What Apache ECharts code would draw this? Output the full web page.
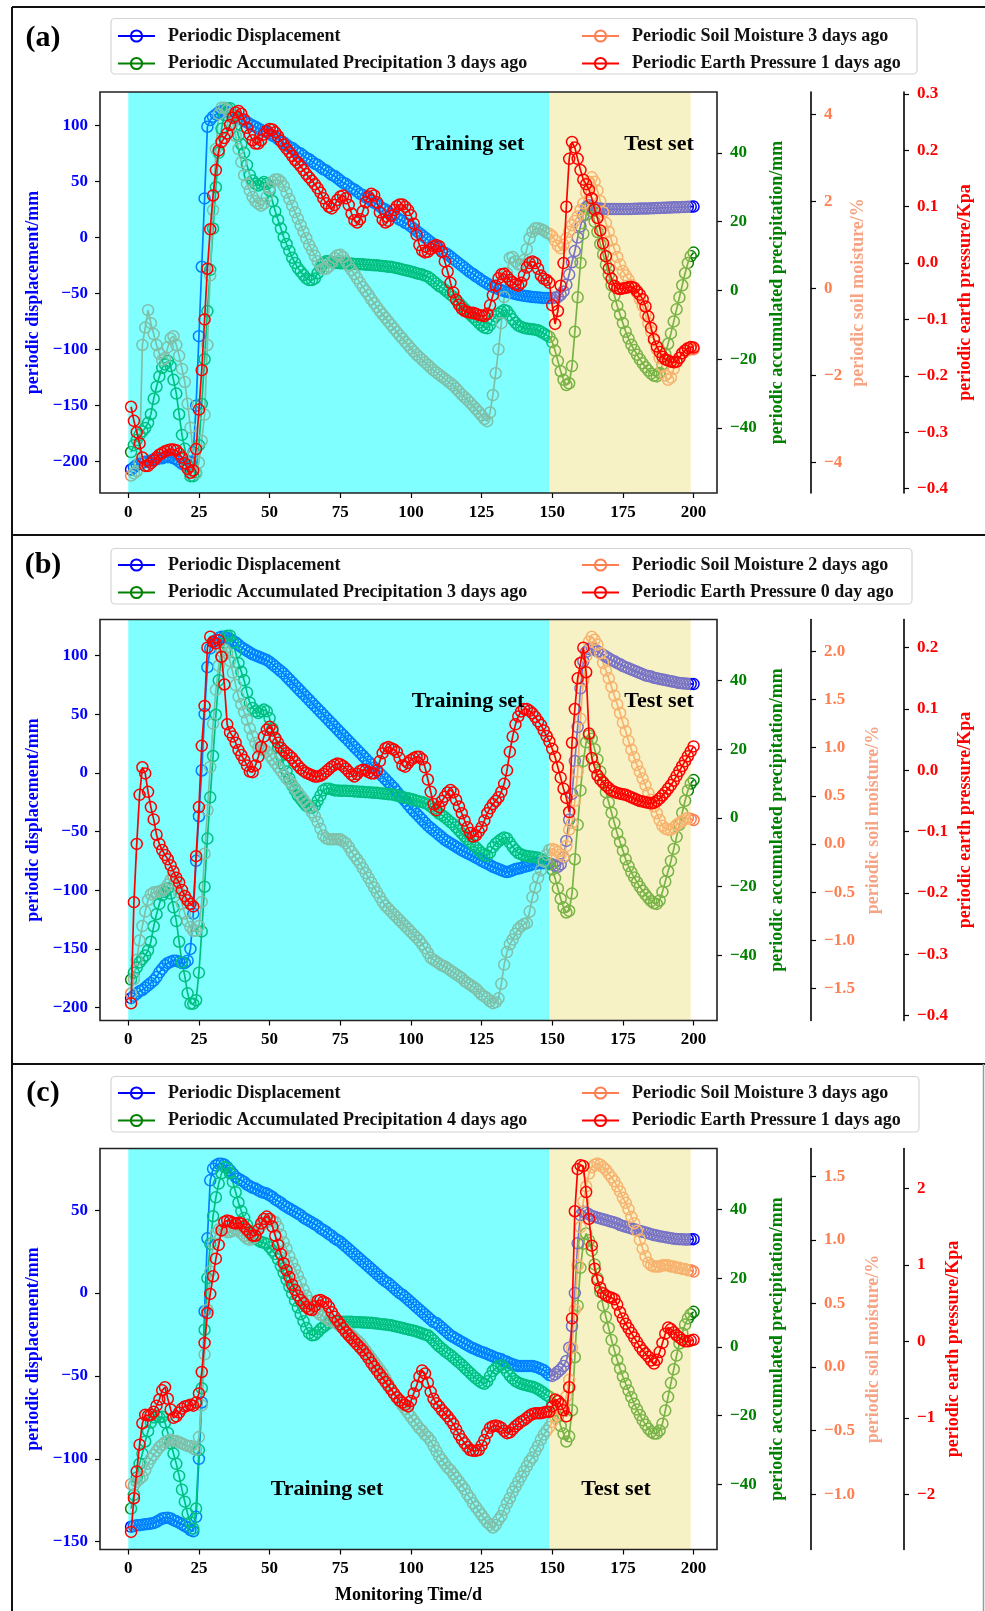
<!DOCTYPE html>
<html>
<head>
<meta charset="utf-8">
<title>Periodic terms: training and test sets</title>
<script src="https://cdn.jsdelivr.net/npm/echarts@6.0.0/dist/echarts.min.js"></script>
<style>
  html, body { margin: 0; padding: 0; background: #fff; }
  #main { width: 985px; height: 1611px; }
</style>
</head>
<body>
<div id="main"></div>
<script>
// ---- panel (a) : one value per monitoring day, day 1..200 ----
const dispA = [
  -207,-205,-203,-202,-201,-200,-200,-199,-198,-198,
  -197,-197,-196,-196,-196,-197,-198,-200,-202,-203,
  -203,-200,-192,-150,-88,-26,35,99,105,108,
  110,112,113,113,112,110.7,109.5,108,107,105.5,
  104,103,101.5,100,99,97.5,96,95,94,93,
  91,90,88,86,85,83,81,80,78,76,
  75,73,71,70,68,66,65,63,61,60,
  58,56,55,53,51,49,48,46,44,43,
  41,39,38,36,35,33,31,30,28,26,
  25,23,21,20,18,16,15,13,12,10,
  8,6,4,2,0,-2,-4,-6,-8,-10,
  -12,-13.5,-15,-17,-19,-21,-23,-25,-27,-29,
  -31,-32.5,-34.5,-36,-38,-39.5,-41,-42.5,-44,-45,
  -46,-47,-47.8,-48.5,-49,-49.7,-50.3,-51,-51.5,-52,
  -52.3,-52.6,-53,-53.2,-53.4,-53.6,-53.8,-54,-54,-54,
  -53.5,-53,-51,-48,-42,-33,-22,-12,0,10,
  20,27,29,28,27,26,26,25.5,25.5,25.5,
  25.5,25.5,25.5,25.5,25.5,25.5,25.5,25.6,25.7,25.8,
  25.9,26,26,26.1,26.2,26.3,26.4,26.5,26.6,26.7,
  26.8,26.9,27,27.1,27.2,27.3,27.4,27.5,27.6,27.7
];
// accumulated precipitation 3 days ago (used in (a) and (b))
const precip3 = [
  -47,-45,-43.5,-42,-41,-40,-38.5,-36,-31.5,-28,
  -25,-22.5,-21.5,-20.5,-22,-26,-30,-36,-42,-46,
  -51,-54,-54,-53,-45,-33,-20,-6,6,18,
  30,40,47,51,53,53,51,48,45,42.5,
  40,36.5,33.5,32,31,30.5,31,31.5,31,29,
  26,23,20.5,18,15.5,13.5,11.5,9.5,8,6.5,
  5.5,4.5,3.5,3,3,3.5,5,6.5,8,8.5,
  8.5,8.3,8,8,7.9,7.9,7.9,7.8,7.8,7.7,
  7.7,7.6,7.6,7.5,7.5,7.4,7.3,7.3,7.2,7.1,
  7,6.9,6.9,6.7,6.5,6.3,6.1,5.9,5.7,5.5,
  5.3,5,4.8,4.6,4.3,4,3.4,2.7,2,1.3,
  0.8,0.2,-0.5,-1.2,-1.8,-2.7,-3.6,-4.5,-5.4,-6.2,
  -7,-7.8,-8.6,-9.4,-10.2,-10.8,-11,-10,-8.5,-7.5,
  -6.8,-6.2,-5.7,-6,-7.2,-8.4,-9.4,-10.2,-10.6,-10.9,
  -11.1,-11.2,-11.3,-11.4,-11.6,-12,-12.5,-13,-13.5,-15,
  -17.5,-20.5,-23.5,-26,-27.5,-27,-22,-12,-2,8,
  16.5,22,24,23,20,17,13.5,10.5,7.5,4.5,
  1.5,-1.5,-4.5,-7,-9.5,-12,-14,-15.8,-17.3,-18.7,
  -20,-21.2,-22.3,-23.3,-24.2,-24.8,-25,-24,-21.5,-18.5,
  -15.5,-12.5,-9,-5.5,-2,1.5,5,8,10,11
];
const soilA = [
  -4.3,-4.25,-4.2,-4,-1.3,-0.9,-0.5,-0.8,-1.05,-1.3,
  -1.5,-1.65,-1.6,-1.35,-1.15,-1.1,-1.3,-1.55,-1.85,-2.15,
  -2.65,-3.2,-3.8,-4.25,-4,-3.5,-2.9,-1.3,0.3,1.8,
  3.2,4,4.15,4.15,4.1,4,3.8,3.5,3.2,2.9,
  2.6,2.4,2.25,2.1,2,1.95,1.9,1.95,2.1,2.3,
  2.45,2.5,2.5,2.45,2.35,2.2,2.05,1.9,1.75,1.6,
  1.45,1.3,1.15,1,0.88,0.75,0.62,0.52,0.45,0.45,
  0.5,0.6,0.7,0.76,0.77,0.72,0.62,0.52,0.42,0.33,
  0.23,0.13,0.03,-0.06,-0.15,-0.25,-0.34,-0.43,-0.52,-0.6,
  -0.68,-0.76,-0.84,-0.92,-1,-1.08,-1.15,-1.23,-1.3,-1.38,
  -1.45,-1.52,-1.58,-1.64,-1.7,-1.76,-1.82,-1.88,-1.93,-1.98,
  -2.03,-2.08,-2.13,-2.18,-2.23,-2.3,-2.37,-2.44,-2.5,-2.56,
  -2.63,-2.7,-2.77,-2.84,-2.92,-3,-3.05,-2.85,-2.45,-1.95,
  -1.4,-0.8,-0.2,0.35,0.7,0.72,0.62,0.55,0.55,0.65,
  0.9,1.15,1.3,1.38,1.38,1.36,1.33,1.28,1.25,1.2,
  1.1,0.98,0.92,1,1.15,1.3,1.45,1.55,1.65,1.8,
  1.95,2.2,2.45,2.55,2.45,2.25,2,1.75,1.5,1.3,
  1.1,0.9,0.72,0.55,0.4,0.3,0.2,0.08,0,-0.1,
  -0.25,-0.4,-0.6,-0.8,-1,-1.2,-1.4,-1.6,-1.8,-2,
  -2.1,-2.05,-1.85,-1.7,-1.6,-1.5,-1.45,-1.42,-1.4,-1.4
];
const earthA = [
  -0.255,-0.28,-0.3,-0.32,-0.345,-0.36,-0.36,-0.355,-0.35,-0.345,
  -0.34,-0.337,-0.334,-0.332,-0.331,-0.331,-0.332,-0.338,-0.345,-0.355,
  -0.365,-0.372,-0.368,-0.33,-0.26,-0.19,-0.1,-0.01,0.06,0.12,
  0.165,0.2,0.215,0.222,0.23,0.245,0.258,0.267,0.27,0.265,
  0.255,0.24,0.228,0.218,0.212,0.212,0.218,0.228,0.235,0.238,
  0.237,0.232,0.225,0.217,0.21,0.203,0.197,0.19,0.183,0.178,
  0.172,0.165,0.158,0.152,0.146,0.14,0.133,0.125,0.115,0.106,
  0.1,0.097,0.103,0.112,0.118,0.12,0.115,0.103,0.088,0.076,
  0.072,0.078,0.092,0.108,0.118,0.123,0.12,0.108,0.09,0.077,
  0.072,0.075,0.084,0.094,0.101,0.104,0.104,0.1,0.094,0.085,
  0.07,0.05,0.032,0.022,0.019,0.02,0.025,0.03,0.032,0.03,
  0.02,0.003,-0.015,-0.035,-0.052,-0.065,-0.074,-0.081,-0.085,-0.087,
  -0.088,-0.088,-0.09,-0.092,-0.093,-0.094,-0.09,-0.075,-0.057,-0.04,
  -0.027,-0.02,-0.019,-0.024,-0.03,-0.034,-0.038,-0.04,-0.035,-0.022,
  -0.008,0,0.003,0,-0.01,-0.022,-0.028,-0.03,-0.035,-0.075,
  -0.108,-0.085,-0.04,0,0.1,0.185,0.215,0.205,0.185,0.165,
  0.148,0.14,0.13,0.115,0.095,0.08,0.058,0.035,0.012,-0.01,
  -0.028,-0.04,-0.045,-0.046,-0.045,-0.044,-0.043,-0.042,-0.044,-0.05,
  -0.056,-0.064,-0.077,-0.095,-0.115,-0.135,-0.148,-0.158,-0.166,-0.171,
  -0.173,-0.175,-0.176,-0.175,-0.168,-0.16,-0.155,-0.151,-0.149,-0.15
];

// ---- panel (b) ----
const dispB = [
  -192,-190,-188,-186,-185,-183,-181,-179,-177,-174,
  -170,-167,-164,-162,-161,-160,-160,-161,-162,-162,
  -160,-150,-120,-75,-37,2,50,90,106,111,
  113,115,116,116,115,114,112.5,111,109,107,
  105.5,104,102.5,101,100,99,98,97,96,94.5,
  92.5,90.5,88.5,86.5,84.5,82,79.5,77,74.5,72,
  69.5,67,64.5,62,59.5,57,54.5,52,49.5,47,
  44.5,42,39.5,37,34.5,32,29.5,27,24.5,22,
  19.5,17,14.5,12,9.5,7,4.5,2,-0.5,-3,
  -5.5,-8,-10.5,-13,-16,-19,-21.5,-24,-27,-30,
  -32.5,-35,-37.5,-40,-42.5,-45,-47,-49,-51,-53,
  -55,-57,-58.5,-60,-61.5,-63,-64.5,-66,-67.3,-68.5,
  -69.7,-71,-72.3,-73.5,-75,-76.2,-77.4,-78.6,-80,-81,
  -82,-83,-84,-84.5,-84,-83,-82,-81.5,-81,-80,
  -79.5,-79,-78,-77.5,-77,-77,-77,-77,-77,-78,
  -79,-80,-78,-72,-58,-40,-18,10,39,72,
  95,103,105.5,106,105,103.5,102,100.5,99,97.5,
  96,95,93.5,92.5,91,90,89,88,87,86,
  85,84,83,82.5,82,81,80.5,80,79.5,79,
  78.5,78,77.5,77,76.5,76.3,76,75.8,75.7,75.6
];
const soilB = [
  -1.55,-1.4,-1.2,-1,-0.85,-0.7,-0.58,-0.52,-0.5,-0.5,
  -0.49,-0.48,-0.46,-0.42,-0.37,-0.34,-0.38,-0.5,-0.62,-0.72,
  -0.8,-0.86,-0.9,-0.9,-0.85,-0.6,-0.1,0.35,0.8,1.25,
  1.6,1.85,2,2.02,1.98,1.9,1.78,1.65,1.53,1.45,
  1.37,1.29,1.2,1.12,1.05,1,0.98,0.98,0.96,0.92,
  0.88,0.84,0.8,0.76,0.72,0.68,0.65,0.62,0.58,0.54,
  0.5,0.46,0.42,0.38,0.33,0.29,0.23,0.16,0.09,0.06,
  0.05,0.05,0.05,0.05,0.05,0.03,0.01,-0.03,-0.08,-0.12,
  -0.16,-0.2,-0.25,-0.3,-0.35,-0.4,-0.45,-0.5,-0.55,-0.6,
  -0.64,-0.67,-0.7,-0.73,-0.76,-0.79,-0.82,-0.85,-0.88,-0.91,
  -0.94,-0.97,-1,-1.04,-1.08,-1.13,-1.18,-1.2,-1.22,-1.24,
  -1.26,-1.27,-1.29,-1.31,-1.33,-1.35,-1.37,-1.39,-1.42,-1.44,
  -1.46,-1.48,-1.5,-1.53,-1.56,-1.58,-1.6,-1.63,-1.65,-1.64,
  -1.6,-1.45,-1.25,-1.12,-1.04,-0.99,-0.93,-0.88,-0.85,-0.83,
  -0.82,-0.7,-0.55,-0.45,-0.35,-0.27,-0.18,-0.11,-0.06,-0.05,
  -0.06,-0.08,-0.11,-0.13,-0.02,0.15,0.22,0.45,0.75,1.3,
  1.7,1.95,2.1,2.15,2.12,2.07,1.98,1.88,1.8,1.72,
  1.63,1.54,1.45,1.36,1.26,1.17,1.07,0.98,0.9,0.82,
  0.75,0.68,0.61,0.53,0.46,0.39,0.32,0.25,0.19,0.16,
  0.15,0.15,0.17,0.2,0.22,0.24,0.26,0.27,0.26,0.25
];
const earthB = [
  -0.38,-0.215,-0.12,-0.04,0.005,-0.005,-0.035,-0.06,-0.08,-0.105,
  -0.12,-0.13,-0.138,-0.145,-0.155,-0.165,-0.175,-0.183,-0.195,-0.205,
  -0.212,-0.218,-0.222,-0.14,-0.06,0.04,0.105,0.2,0.218,0.21,
  0.207,0.212,0.185,0.14,0.075,0.062,0.055,0.045,0.033,0.025,
  0.017,0.008,-0.002,-0.003,0.008,0.022,0.038,0.055,0.066,0.071,
  0.065,0.053,0.045,0.037,0.032,0.028,0.024,0.02,0.014,0.008,
  0.003,-0.001,-0.004,-0.006,-0.008,-0.01,-0.01,-0.009,-0.006,-0.002,
  0.002,0.006,0.009,0.011,0.01,0.007,0.003,-0.002,-0.007,-0.01,
  -0.006,-0.001,0.001,0,-0.003,-0.005,-0.005,0,0.015,0.028,
  0.036,0.038,0.036,0.034,0.03,0.02,0.008,0.006,0.012,0.017,
  0.02,0.022,0.022,0.018,0.005,-0.015,-0.035,-0.055,-0.065,-0.06,
  -0.05,-0.043,-0.036,-0.032,-0.036,-0.048,-0.059,-0.07,-0.082,-0.093,
  -0.102,-0.108,-0.106,-0.1,-0.093,-0.082,-0.07,-0.062,-0.055,-0.05,
  -0.044,-0.035,-0.022,0,0.03,0.055,0.075,0.088,0.096,0.1,
  0.1,0.097,0.093,0.087,0.08,0.074,0.065,0.056,0.047,0.035,
  0.022,0.005,-0.012,-0.03,-0.045,-0.068,0.045,0.1,0.15,0.175,
  0.2,0.16,0.06,0.02,0.005,-0.008,-0.015,-0.02,-0.025,-0.029,
  -0.033,-0.035,-0.037,-0.038,-0.039,-0.04,-0.042,-0.044,-0.046,-0.048,
  -0.05,-0.051,-0.052,-0.053,-0.054,-0.053,-0.05,-0.046,-0.041,-0.036,
  -0.03,-0.024,-0.017,-0.009,-0.001,0.007,0.015,0.023,0.031,0.039
];

// ---- panel (c) ----
const dispC = [
  -141,-140.5,-140,-140,-139.7,-139.5,-139.3,-139,-138.7,-138,
  -137,-136,-135.7,-135.5,-136,-137,-137.7,-138.5,-139.5,-140.5,
  -141.5,-143,-143.7,-135,-100,-66,-11,33,68,75,
  77,78,78,77.5,76,74,72,70,69,68,
  67,65.5,64.5,63.5,63,62,61,60.5,60,59,
  58,56.5,55.5,54.5,53,52,51,50,49,48,
  47,45.5,44.5,43.5,42.5,41.5,40.5,39,38,37,
  35.5,34.5,33,32,31,29.5,28,26.5,25,23.5,
  22,20.5,19,17.5,16,14.5,13,11.5,10,8.5,
  7,6,4.5,3,1.5,0,-1,-2.5,-4,-5.5,
  -7,-8.5,-10,-11.5,-13,-14.5,-16,-17.5,-18,-19.5,
  -21,-22.5,-24,-25.5,-26.5,-27.5,-28.5,-29.5,-30.5,-31.5,
  -32.5,-33.3,-34,-34.8,-35.5,-36,-36.8,-37.5,-38.2,-39,
  -39.5,-40,-41,-41.5,-42.3,-43,-43.5,-44,-44,-44,
  -44,-44,-44,-44.5,-45,-45.8,-46.5,-48,-49.5,-50,
  -49,-47.5,-46,-44,-41,-33,-20,0,30,47,
  49,48.5,47.5,46.5,46,45.5,45,44.5,44,43.5,
  43,42.5,42,41,40.5,40,39.5,39,38.5,38,
  37.5,37,36.5,36,35.5,35,34.7,34.3,34,33.7,
  33.4,33.1,32.8,32.6,32.5,32.4,32.3,32.3,32.4,32.5
];
// accumulated precipitation 4 days ago
const precip4 = [
  -47,-43,-38,-34,-31,-27.5,-24.5,-22,-20.5,-20,
  -20.5,-20.3,-22,-25,-28,-31,-34,-37.5,-41.5,-45,
  -48.5,-51,-52.8,-47,-30,-12,5,20,30,38,
  43.5,47.5,50.5,52.3,52,50.5,48,45,42,39.5,
  37.5,35.5,33.5,32.5,31.5,31,30.5,30.3,30,29,
  28,27,25.5,23.5,21.5,19.5,17.5,15.5,13.5,11.5,
  9.5,7.5,5.5,4,3.4,3.5,4.3,5.2,5.8,6.4,
  7,7.3,7.3,7.3,7.3,7.3,7.3,7.3,7.3,7.2,
  7.2,7.2,7.1,7.1,7,7,6.9,6.8,6.7,6.6,
  6.5,6.4,6.3,6.1,5.9,5.7,5.5,5.3,5.1,4.9,
  4.7,4.5,4.2,3.9,3.6,3.4,2.7,1.9,1,0.2,
  -0.5,-1.2,-1.8,-2.4,-3.1,-3.8,-4.5,-5.2,-6,-6.8,
  -7.6,-8.4,-9.1,-9.8,-10.4,-10.7,-10,-8.5,-7,-6.2,
  -5.6,-5.3,-6,-7.2,-8.3,-9.2,-9.9,-10.4,-10.7,-11,
  -11.2,-11.4,-11.6,-11.9,-12.3,-12.8,-13.4,-14,-14.5,-16.5,
  -18.5,-20.3,-23,-25.2,-27.5,-26,-18.4,-3,12,23,
  30,33,31,28,24,20,16,12,8.7,5.5,
  2,-1,-3.8,-6.3,-8.6,-10.7,-12.7,-14.6,-16.5,-18.2,
  -19.8,-21.3,-22.6,-23.8,-24.7,-25.2,-25.2,-24.3,-22.3,-18.5,
  -14.5,-10.5,-6.5,-2.5,1,4,6.5,8.3,9.5,10.2
];
const soilC = [
  -0.92,-0.93,-0.9,-0.88,-0.86,-0.81,-0.76,-0.72,-0.69,-0.66,
  -0.63,-0.61,-0.59,-0.58,-0.57,-0.58,-0.58,-0.59,-0.6,-0.61,
  -0.62,-0.62,-0.64,-0.65,-0.55,-0.3,0.1,0.45,0.75,0.97,
  1.05,1.08,1.08,1.07,1.06,1.06,1.07,1.08,1.07,1.05,
  1.03,1.01,1,1.01,1.04,1.08,1.11,1.13,1.14,1.15,
  1.15,1.14,1.1,1.04,0.98,0.93,0.87,0.82,0.77,0.72,
  0.67,0.61,0.56,0.52,0.48,0.45,0.43,0.41,0.4,0.39,
  0.37,0.36,0.35,0.34,0.32,0.31,0.29,0.27,0.25,0.23,
  0.21,0.19,0.16,0.13,0.1,0.07,0.04,0.01,-0.02,-0.05,
  -0.09,-0.13,-0.17,-0.21,-0.24,-0.27,-0.3,-0.33,-0.36,-0.39,
  -0.42,-0.45,-0.48,-0.5,-0.53,-0.55,-0.58,-0.62,-0.66,-0.7,
  -0.73,-0.76,-0.79,-0.81,-0.84,-0.87,-0.9,-0.93,-0.96,-1,
  -1.03,-1.07,-1.1,-1.13,-1.16,-1.19,-1.22,-1.24,-1.26,-1.24,
  -1.2,-1.17,-1.12,-1.07,-1.03,-0.98,-0.94,-0.9,-0.86,-0.82,
  -0.78,-0.74,-0.71,-0.66,-0.62,-0.57,-0.53,-0.5,-0.47,-0.43,
  -0.39,-0.37,-0.34,-0.3,-0.23,-0.1,0.15,0.45,0.8,1.1,
  1.3,1.42,1.52,1.57,1.59,1.6,1.59,1.57,1.55,1.52,
  1.49,1.46,1.42,1.38,1.33,1.29,1.24,1.18,1.13,1.07,
  1,0.93,0.87,0.82,0.8,0.79,0.79,0.79,0.8,0.8,
  0.8,0.79,0.79,0.78,0.78,0.77,0.77,0.76,0.76,0.75
];
const earthC = [
  -2.49,-2.05,-1.7,-1.35,-1.07,-0.96,-0.97,-0.96,-0.92,-0.84,
  -0.76,-0.64,-0.6,-0.75,-0.89,-1,-0.98,-0.93,-0.88,-0.85,
  -0.84,-0.83,-0.84,-0.8,-0.68,-0.4,-0.02,0.37,0.62,0.85,
  1.08,1.26,1.45,1.56,1.58,1.57,1.55,1.54,1.55,1.54,
  1.5,1.46,1.42,1.38,1.38,1.46,1.54,1.6,1.63,1.6,
  1.5,1.38,1.26,1.14,1.02,0.93,0.84,0.74,0.67,0.6,
  0.54,0.5,0.45,0.42,0.41,0.46,0.53,0.54,0.52,0.5,
  0.45,0.38,0.32,0.27,0.22,0.17,0.12,0.08,0.04,0,
  -0.04,-0.08,-0.12,-0.17,-0.22,-0.28,-0.33,-0.38,-0.43,-0.48,
  -0.53,-0.58,-0.63,-0.68,-0.73,-0.77,-0.8,-0.83,-0.85,-0.78,
  -0.68,-0.58,-0.46,-0.38,-0.42,-0.54,-0.66,-0.75,-0.81,-0.85,
  -0.9,-0.94,-0.98,-1.03,-1.08,-1.15,-1.22,-1.28,-1.33,-1.38,
  -1.42,-1.43,-1.43,-1.42,-1.36,-1.29,-1.2,-1.13,-1.11,-1.1,
  -1.11,-1.13,-1.17,-1.2,-1.19,-1.15,-1.11,-1.08,-1.05,-1.03,
  -1,-0.97,-0.95,-0.94,-0.94,-0.94,-0.93,-0.92,-0.92,-0.85,
  -0.76,-0.78,-0.82,-0.9,-0.98,-0.6,0.3,1.7,2.25,2.3,
  2.29,1.95,1.6,1.25,0.95,0.8,0.7,0.63,0.6,0.58,
  0.57,0.55,0.48,0.38,0.3,0.23,0.17,0.11,0.05,-0.01,
  -0.07,-0.12,-0.16,-0.2,-0.25,-0.29,-0.24,-0.14,-0.02,0.1,
  0.18,0.16,0.12,0.08,0.05,0.02,0,0,0.01,0.02
];

// ---- ticks and set boundaries ----
const xTicks = [0, 25, 50, 75, 100, 125, 150, 175, 200];
const dispTicksAB = [-200, -150, -100, -50, 0, 50, 100];
const dispTicksC = [-150, -100, -50, 0, 50];
const precipTicks = [-40, -20, 0, 20, 40];
const soilTicksA = [-4, -2, 0, 2, 4];
const soilTicksB = [-1.5, -1, -0.5, 0, 0.5, 1, 1.5, 2];
const soilTicksC = [-1, -0.5, 0, 0.5, 1, 1.5];
const earthTicksA = [-0.4, -0.3, -0.2, -0.1, 0, 0.1, 0.2, 0.3];
const earthTicksB = [-0.4, -0.3, -0.2, -0.1, 0, 0.1, 0.2];
const earthTicksC = [-2, -1, 0, 1, 2];
const trainStart = 0, trainEnd = 149, testEnd = 199;

const FONT = "'Liberation Serif', 'Times New Roman', serif";
const BLUE = '#0000ff', GREEN = '#008000', CORAL = '#ff7f50', RED = '#ff0000';
const SOIL_TITLE = '#f5a585';

const panels = [
  {
    tag: '(a)', top: 92, tagY: 38, legendTop: 26, box: [111, 18.5, 806, 55.5],
    names: ['Periodic Displacement', 'Periodic Accumulated Precipitation 3 days ago',
            'Periodic Soil Moisture 3 days ago', 'Periodic Earth Pressure 1 days ago'],
    data: [dispA, precip3, soilA, earthA],
    ext: [[-228, 130], [-58.9, 57.7], [-4.70, 4.51], [-0.408, 0.3036]],
    ticks: [dispTicksAB, precipTicks, soilTicksA, earthTicksA],
    dec: [0, 0, 0, 1],
    gaps: [58, 51, 38, 52],
    texts: [['Training set', 468, 144], ['Test set', 659, 144]]
  },
  {
    tag: '(b)', top: 619.5, tagY: 565, legendTop: 555, box: [111, 548.5, 801, 55.5],
    names: ['Periodic Displacement', 'Periodic Accumulated Precipitation 3 days ago',
            'Periodic Soil Moisture 2 days ago', 'Periodic Earth Pressure 0 day ago'],
    data: [dispB, precip3, soilB, earthB],
    ext: [[-211, 130.6], [-58.9, 57.7], [-1.83, 2.33], [-0.408, 0.246]],
    ticks: [dispTicksAB, precipTicks, soilTicksB, earthTicksB],
    dec: [0, 0, 1, 1],
    gaps: [58, 51, 53, 52],
    texts: [['Training set', 468, 701.5], ['Test set', 659, 701.5]]
  },
  {
    tag: '(c)', top: 1148.5, tagY: 1093, legendTop: 1083, box: [111, 1076.5, 808, 55.5],
    names: ['Periodic Displacement', 'Periodic Accumulated Precipitation 4 days ago',
            'Periodic Soil Moisture 3 days ago', 'Periodic Earth Pressure 1 days ago'],
    data: [dispC, precip4, soilC, earthC],
    ext: [[-154.7, 87.2], [-58.9, 57.7], [-1.433, 1.717], [-2.72, 2.52]],
    ticks: [dispTicksC, precipTicks, soilTicksC, earthTicksC],
    dec: [0, 0, 1, 0],
    gaps: [58, 51, 53, 40],
    texts: [['Training set', 327, 1489.5], ['Test set', 616, 1489.5]]
  }
];

const GRID_LEFT = 100, GRID_W = 617, GRID_H = 401;
const colors = [BLUE, GREEN, CORAL, RED];
const nameColors = [BLUE, GREEN, SOIL_TITLE, RED];
const titles = ['periodic displacement/mm', 'periodic accumulated precipitation/mm',
                'periodic soil moisture/%', 'periodic earth pressure/Kpa'];
const positions = ['left', 'right', 'right', 'right'];
const offsets = [0, 0, 94, 187];

const fmt = d => v => (d ? v.toFixed(d) : String(Math.round(v))).replace('-', '\u2212');
const pairs = arr => arr.map((v, i) => [i + 1, v]);
const bold = (size, color) => ({ fontFamily: FONT, fontWeight: 'bold', fontSize: size, color });

const option = {
  animation: false,
  backgroundColor: '#fff',
  grid: [], xAxis: [], yAxis: [], series: [], legend: [], graphic: []
};

panels.forEach((P, p) => {
  option.grid.push({ left: GRID_LEFT, top: P.top, width: GRID_W, height: GRID_H, outerBoundsMode: 'none' });

  option.xAxis.push({
    type: 'value', gridIndex: p, min: -10, max: 208.3,
    axisLine: { show: false, onZero: false },
    splitLine: { show: false },
    axisTick: { customValues: xTicks, length: 5, lineStyle: { color: '#000', width: 1.2 } },
    axisLabel: Object.assign({ customValues: xTicks, margin: 11 }, bold(17, '#000')),
    name: p === 2 ? 'Monitoring Time/d' : '',
    nameLocation: 'middle', nameGap: 37, nameMoveOverlap: false,
    nameTextStyle: bold(18, '#000')
  });

  for (let k = 0; k < 4; k++) {
    option.yAxis.push({
      type: 'value', gridIndex: p, position: positions[k], offset: offsets[k],
      min: P.ext[k][0], max: P.ext[k][1],
      splitLine: { show: false },
      axisLine: { show: k >= 2, onZero: false, lineStyle: { color: '#000', width: 1.6 } },
      axisTick: { customValues: P.ticks[k], length: 5, lineStyle: { color: '#000', width: 1.2 } },
      axisLabel: Object.assign({ customValues: P.ticks[k], formatter: fmt(P.dec[k]), margin: k === 0 ? 12 : 13 },
                               bold(17, colors[k])),
      name: titles[k], nameLocation: 'middle', nameRotate: 90, nameGap: P.gaps[k], nameMoveOverlap: false,
      nameTextStyle: bold(18, nameColors[k])
    });
  }

  const line = (k, z) => ({
    name: P.names[k], type: 'line', xAxisIndex: p, yAxisIndex: 4 * p + k, z,
    data: pairs(P.data[k]),
    symbol: 'circle', symbolSize: 11,
    itemStyle: { color: 'rgba(0,0,0,0)', borderColor: colors[k], borderWidth: 1.5 },
    lineStyle: { color: colors[k], width: 1.7 },
    emphasis: { disabled: true }
  });
  option.series.push(line(0, 2), line(1, 2), line(2, 2));
  // translucent training / test spans, drawn over the first three series
  option.series.push({
    type: 'line', xAxisIndex: p, yAxisIndex: 4 * p, data: [], silent: true, z: 3,
    markArea: {
      silent: true, z: 3,
      data: [
        [{ xAxis: trainStart, itemStyle: { color: 'rgba(0,255,255,0.5)' } }, { xAxis: trainEnd }],
        [{ xAxis: trainEnd, itemStyle: { color: 'rgba(240,230,140,0.5)' } }, { xAxis: testEnd }]
      ]
    }
  });
  option.series.push(line(3, 4));

  const legendBase = {
    orient: 'vertical', top: P.legendTop, padding: 0, itemWidth: 37, itemHeight: 14, itemGap: 7.5,
    selectedMode: false,
    textStyle: Object.assign({ lineHeight: 20, padding: [0, 0, 0, 8] }, bold(18, '#111'))
  };
  option.legend.push(Object.assign({ left: 117, data: [P.names[0], P.names[1]] }, legendBase));
  option.legend.push(Object.assign({ left: 581, data: [P.names[2], P.names[3]] }, legendBase));

  option.graphic.push(
    { type: 'rect', silent: true, z: 0,
      shape: { x: P.box[0], y: P.box[1], width: P.box[2], height: P.box[3], r: 4 },
      style: { fill: '#fff', stroke: '#d4d4d4', lineWidth: 1.2 } },
    { type: 'rect', silent: true, z: 100,
      shape: { x: GRID_LEFT, y: P.top, width: GRID_W, height: GRID_H },
      style: { fill: 'none', stroke: '#222', lineWidth: 1.6 } },
    { type: 'text', silent: true, z: 100, x: 43, y: P.tagY,
      style: { text: P.tag, font: 'bold 30px ' + FONT, fill: '#000', align: 'center', verticalAlign: 'middle' } }
  );
  P.texts.forEach(t => option.graphic.push({
    type: 'text', silent: true, z: 100, x: t[1], y: t[2],
    style: { text: t[0], font: 'bold 22px ' + FONT, fill: '#000', align: 'center', verticalAlign: 'middle' }
  }));
});

// figure borders and panel separators
[[12, 7, 985, 7], [12, 7, 12, 1611], [12, 535, 985, 535], [12, 1064, 985, 1064]].forEach(s => {
  option.graphic.push({ type: 'line', silent: true, z: 100,
    shape: { x1: s[0], y1: s[1], x2: s[2], y2: s[3] }, style: { stroke: '#111', lineWidth: 2 } });
});
option.graphic.push({ type: 'line', silent: true, z: 100,
  shape: { x1: 983.5, y1: 1064, x2: 983.5, y2: 1611 }, style: { stroke: '#999', lineWidth: 1.5 } });

const chart = echarts.init(document.getElementById('main'));
chart.setOption(option);
</script>
</body>
</html>
